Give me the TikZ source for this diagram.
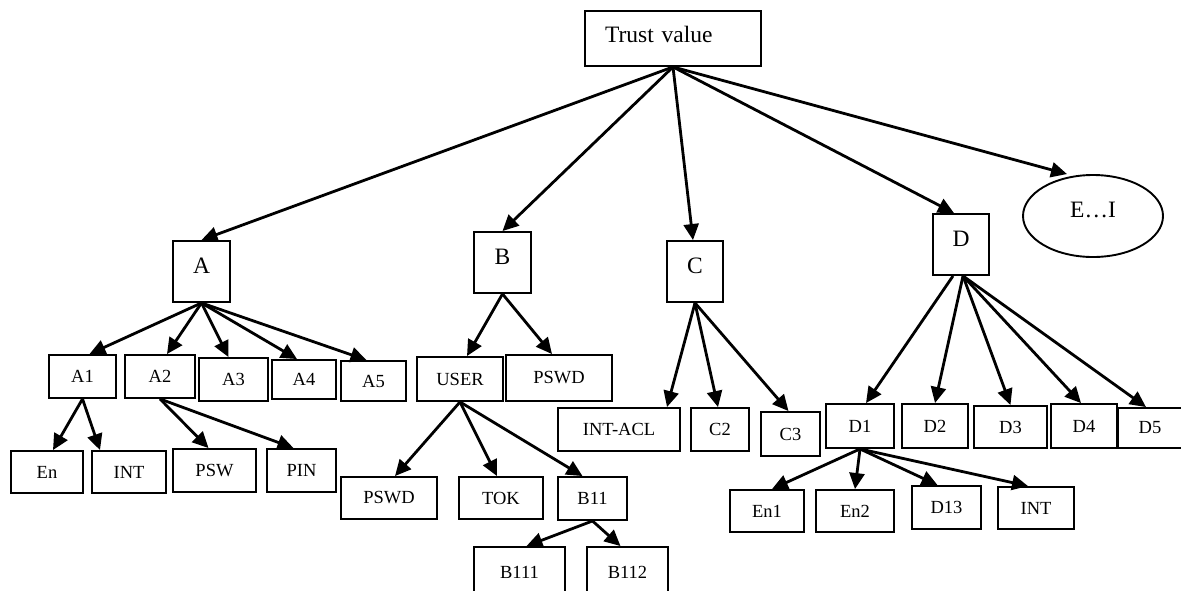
\documentclass[tikz,border=0pt]{standalone}
\usepackage{fontspec}
\setmainfont{Liberation Serif}
\usetikzlibrary{arrows.meta,shapes.geometric}

\begin{document}
\begin{tikzpicture}[x=1pt,y=-1pt,
		box/.style={draw,line width=1.9pt,inner sep=0pt,font=\fontsize{18.5}{22}\selectfont},
		big/.style={box,text depth=12pt,font=\fontsize{23.5}{28}\selectfont},
		arr/.style={-{Triangle[length=16pt,width=15pt]},line width=2.8pt}]
	\useasboundingbox (0,0) rectangle (1181,590);
	\node[big,minimum width=176pt,minimum height=55pt,text width=136pt,align=left,text depth=8pt] (Tr) at (673,38.5) {Trust value};
	\node[big,minimum width=57pt,minimum height=61pt] (A) at (201.5,271.5) {A};
	\node[big,minimum width=57pt,minimum height=61pt] (B) at (502.5,262.5) {B};
	\node[big,minimum width=56pt,minimum height=61pt] (C) at (695,271.5) {C};
	\node[big,minimum width=56pt,minimum height=61pt] (D) at (961,244.5) {D};
	\node[big,ellipse,minimum width=140pt,minimum height=82pt] (EI) at (1093,216) {E\ldots I};
	\node[box,minimum width=67pt,minimum height=43pt] (A1) at (82.5,376.5) {A1};
	\node[box,minimum width=70pt,minimum height=43pt] (A2) at (160,376.5) {A2};
	\node[box,minimum width=69pt,minimum height=43pt] (A3) at (233.5,379.5) {A3};
	\node[box,minimum width=64pt,minimum height=39pt] (A4) at (304,379.5) {A4};
	\node[box,minimum width=65pt,minimum height=40pt] (A5) at (373.5,381) {A5};
	\node[box,minimum width=72pt,minimum height=42pt] (En) at (47,472) {En};
	\node[box,minimum width=74pt,minimum height=42pt] (IntA) at (129,472) {INT};
	\node[box,minimum width=83pt,minimum height=43pt] (Psw) at (214.5,470.5) {PSW};
	\node[box,minimum width=69pt,minimum height=43pt] (Pin) at (301.5,470.5) {PIN};
	\node[box,minimum width=86pt,minimum height=44pt] (User) at (460,379) {USER};
	\node[box,minimum width=106pt,minimum height=46pt] (PswdB) at (559,378) {PSWD};
	\node[box,minimum width=96pt,minimum height=42pt] (PswdU) at (389,498) {PSWD};
	\node[box,minimum width=84pt,minimum height=42pt] (Tok) at (501,498) {TOK};
	\node[box,minimum width=69pt,minimum height=43pt] (B11) at (592.5,498.5) {B11};
	\node[box,minimum width=91pt,minimum height=50pt] (B111) at (519.5,572) {B111};
	\node[box,minimum width=81pt,minimum height=50pt] (B112) at (627.5,572) {B112};
	\node[box,minimum width=122pt,minimum height=43pt] (IntAcl) at (619,429.5) {INT-ACL};
	\node[box,minimum width=58pt,minimum height=43pt] (C2) at (720,429.5) {C2};
	\node[box,minimum width=59pt,minimum height=44pt] (C3) at (790.5,434) {C3};
	\node[box,minimum width=68pt,minimum height=44pt] (D1) at (860,426) {D1};
	\node[box,minimum width=66pt,minimum height=44pt] (D2) at (935,426) {D2};
	\node[box,minimum width=73pt,minimum height=42pt] (D3) at (1010.5,427) {D3};
	\node[box,minimum width=66pt,minimum height=44pt] (D4) at (1084,426) {D4};
	\node[box,minimum width=64pt,minimum height=40pt] (D5) at (1150,428) {D5};
	\node[box,minimum width=74pt,minimum height=42pt] (En1) at (767,511) {En1};
	\node[box,minimum width=78pt,minimum height=42pt] (En2) at (855,511) {En2};
	\node[box,minimum width=69pt,minimum height=43pt] (D13) at (946.5,507.5) {D13};
	\node[box,minimum width=76pt,minimum height=42pt] (IntD) at (1036,508) {INT};

	\draw[arr] (Tr.south) -- (A.north);
	\draw[arr] (Tr.south) -- (B.north);
	\draw[arr] (Tr.south) -- ([xshift=-2pt]C.north);
	\draw[arr] (Tr.south) -- ([xshift=-7pt]D.north);
	\draw[arr] (Tr.south) -- ([xshift=-26pt]EI.north);

	\draw[arr] (A.south) -- ([xshift=7pt]A1.north);
	\draw[arr] (A.south) -- ([xshift=7pt]A2.north);
	\draw[arr] (A.south) -- ([xshift=-5pt]A3.north);
	\draw[arr] (A.south) -- ([xshift=-7pt]A4.north);
	\draw[arr] (A.south) -- ([xshift=-7pt]A5.north);
	\draw[arr] (A1.south) -- ([xshift=6pt]En.north);
	\draw[arr] (A1.south) -- ([xshift=-29pt]IntA.north);
	\draw[arr] (A2.south) -- ([xshift=-6pt]Psw.north);
	\draw[arr] (A2.south) -- ([xshift=-8pt]Pin.north);

	\draw[arr] (B.south) -- ([xshift=7pt]User.north);
	\draw[arr] (B.south) -- ([xshift=-7pt]PswdB.north);
	\draw[arr] (User.south) -- ([xshift=6pt]PswdU.north);
	\draw[arr] (User.south) -- ([xshift=-4pt]Tok.north);
	\draw[arr] (User.south) -- ([xshift=-10pt]B11.north);
	\draw[arr] (B11.south) -- ([xshift=7pt]B111.north);
	\draw[arr] (B11.south) -- ([xshift=-7pt]B112.north);

	\draw[arr] (C.south) -- ([xshift=48pt]IntAcl.north);
	\draw[arr] (C.south) -- ([xshift=-2pt]C2.north);
	\draw[arr] (C.south) -- ([xshift=-2pt]C3.north);

	\draw[arr] ([xshift=-8pt]D.south) -- ([xshift=6pt]D1.north);
	\draw[arr] ([xshift=2pt]D.south) -- (D2.north);
	\draw[arr] ([xshift=2pt]D.south) -- (D3.north);
	\draw[arr] ([xshift=2pt]D.south) -- ([xshift=-3pt]D4.north);
	\draw[arr] ([xshift=2pt]D.south) -- ([xshift=-4pt]D5.north);
	\draw[arr] (D1.south) -- ([xshift=5pt]En1.north);
	\draw[arr] (D1.south) -- (En2.north);
	\draw[arr] (D1.south) -- ([xshift=-9pt]D13.north);
	\draw[arr] (D1.south) -- ([xshift=-8pt]IntD.north);
\end{tikzpicture}
\end{document}
